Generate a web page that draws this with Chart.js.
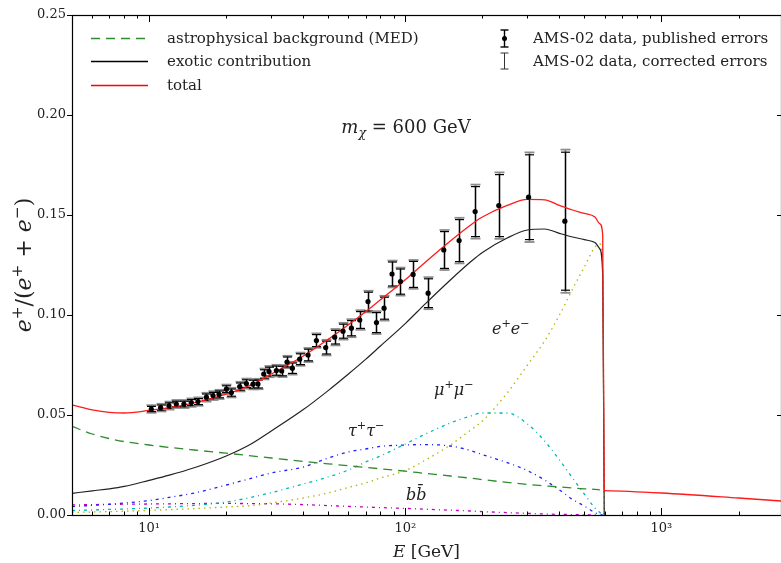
<!DOCTYPE html>
<html>
<head>
<meta charset="utf-8">
<script src="https://cdn.jsdelivr.net/npm/chart.js@4.4.1/dist/chart.umd.min.js"></script>
<style>
  html, body { margin: 0; padding: 0; background: #fff; }
  #wrap { width: 781px; height: 563px; }
</style>
</head>
<body>
<div id="wrap"><canvas id="chart" width="781" height="563"></canvas></div>
<script>
// =========================
// DATA
// =========================
// energy grid (GeV) for the model curves
const energy = [5, 6, 7, 8, 10, 12, 15, 20, 25, 30, 40, 50, 60, 70, 80, 100, 120, 150, 180, 200,
  250, 300, 350, 400, 450, 500, 550, 575, 590, 598, 601, 1000, 2000, 2930];

const background = [0.0443, 0.0405, 0.0382, 0.0367, 0.035, 0.0338, 0.0325, 0.0309, 0.0296, 0.0285,
  0.0268, 0.0256, 0.0246, 0.0238, 0.0231, 0.0219, 0.0208, 0.0195, 0.0184, 0.0177,
  0.0163, 0.0153, 0.0146, 0.014, 0.0135, 0.0131, 0.0128, 0.0126, null, null, null, null, null, null];

const exotic = [0.0108, 0.0121, 0.0131, 0.0143, 0.0173, 0.0199, 0.0236, 0.0295, 0.0355, 0.042,
  0.0527, 0.0622, 0.0705, 0.0778, 0.0845, 0.0957, 0.1057, 0.1175, 0.1266, 0.1313,
  0.1385, 0.1425, 0.143, 0.1408, 0.139, 0.1377, 0.1362, 0.133, 0.12, 0, null, null, null, null];

const total = [0.0551, 0.0526, 0.0513, 0.051, 0.0523, 0.0537, 0.0561, 0.0604, 0.0651, 0.0705,
  0.0795, 0.0878, 0.0951, 0.1016, 0.1076, 0.1176, 0.1265, 0.137, 0.145, 0.149,
  0.1548, 0.1578, 0.1576, 0.1548, 0.1525, 0.1508, 0.149, 0.1456, 0.14, 0.0125, 0.0122, 0.011, 0.0085, 0.007];

const chanEE = [0.0013, 0.0015, 0.0017, 0.0019, 0.0023, 0.0027, 0.0032, 0.004, 0.0047, 0.006,
  0.0085, 0.011, 0.0138, 0.016, 0.0185, 0.0222, 0.0275, 0.035, 0.0425, 0.047,
  0.061, 0.075, 0.087, 0.1, 0.113, 0.124, 0.134, 0.1355, 0.12, 0, null, null, null, null];

const chanMuMu = [0.0022, 0.0025, 0.0028, 0.003, 0.0035, 0.004, 0.0048, 0.0065, 0.0088, 0.0112,
  0.0155, 0.019, 0.0225, 0.0265, 0.0295, 0.0355, 0.0405, 0.046, 0.0495, 0.051,
  0.051, 0.0455, 0.037, 0.0275, 0.0185, 0.0105, 0.0035, 0.0012, 0, null, null, null, null, null];

const chanTauTau = [0.0042, 0.0048, 0.0054, 0.006, 0.0072, 0.0088, 0.011, 0.015, 0.0183, 0.021,
  0.024, 0.0285, 0.0315, 0.033, 0.0343, 0.035, 0.0352, 0.0345, 0.0322, 0.0302,
  0.0262, 0.0222, 0.0175, 0.0125, 0.0078, 0.0045, 0.0012, 0.0003, 0, null, null, null, null, null];

const chanBB = [0.005, 0.0052, 0.0053, 0.0054, 0.0055, 0.0056, 0.0057, 0.0058, 0.0057, 0.0056,
  0.0052, 0.0047, 0.0043, 0.004, 0.0037, 0.0033, 0.0029, 0.0024, 0.002, 0.0017,
  0.0012, 0.0008, 0.0005, 0.0003, 0.0002, 0.0001, 0.00003, 0, null, null, null, null, null, null];

// AMS-02 positron fraction
const amsEnergy = [10.2, 11.09, 11.95, 12.77, 13.67, 14.61, 15.51, 16.73, 17.76, 18.74,
  20.03, 20.95, 22.57, 23.97, 25.44, 26.61, 28.02, 29.38, 31.4, 32.93,
  34.54, 36.26, 38.72, 41.73, 44.99, 48.92, 53.04, 57.15, 61.63, 66.42,
  71.54, 77.2, 82.65, 88.8, 95.79, 107.3, 122.8, 141.4, 162.3, 187.4,
  231.8, 302.9, 419.8];
const amsFraction = [0.053, 0.0537, 0.0547, 0.0555, 0.0555, 0.0562, 0.0567, 0.0589, 0.0597, 0.0603,
  0.0629, 0.0612, 0.0642, 0.0657, 0.0654, 0.0655, 0.0705, 0.0717, 0.0722, 0.072,
  0.0765, 0.0734, 0.0779, 0.08, 0.0872, 0.0837, 0.0889, 0.0919, 0.0934, 0.0975,
  0.1067, 0.0962, 0.1034, 0.1205, 0.1167, 0.1203, 0.1109, 0.1325, 0.1372, 0.1517,
  0.1547, 0.1589, 0.1469];
const amsErrPublished = [0.0013, 0.0013, 0.0014, 0.0014, 0.0014, 0.0015, 0.0015, 0.0016, 0.0016, 0.0017,
  0.0017, 0.0018, 0.0018, 0.0019, 0.002, 0.002, 0.0021, 0.0022, 0.0023, 0.0024,
  0.0025, 0.0026, 0.0027, 0.0029, 0.003, 0.0032, 0.0034, 0.0035, 0.0038, 0.0042,
  0.0047, 0.005, 0.0055, 0.006, 0.0063, 0.0065, 0.0072, 0.0092, 0.0105, 0.0125,
  0.0155, 0.0212, 0.0345];
const amsErrCorrected = [0.0019, 0.0019, 0.002, 0.002, 0.002, 0.0021, 0.0021, 0.0022, 0.0022, 0.0023,
  0.0023, 0.0024, 0.0024, 0.0025, 0.0026, 0.0026, 0.0027, 0.0028, 0.0029, 0.003,
  0.0031, 0.0032, 0.0033, 0.0035, 0.0036, 0.0039, 0.0041, 0.0042, 0.0045, 0.0049,
  0.0054, 0.0057, 0.0062, 0.0067, 0.007, 0.0072, 0.008, 0.01, 0.0114, 0.0135,
  0.0166, 0.0224, 0.0358];

// axis ticks
const xTickValues = [5, 6, 7, 8, 9, 10, 20, 30, 40, 50, 60, 70, 80, 90,
  100, 200, 300, 400, 500, 600, 700, 800, 900, 1000, 2000];
const xMajorTicks = [10, 100, 1000];
const xTickLabels = ["10¹", "10²", "10³"];

const SERIF = '"DejaVu Serif", "Liberation Serif", serif';
const TEXT = "#222";

// =========================
// HELPERS
// =========================
function fontFor(p, size) {
  const s = p.sup || p.sub ? size * 0.7 : size;
  return (p.it ? "italic " : "") + s + "px " + SERIF;
}

function drawRich(ctx, parts, x, y, size, align) {
  let w = 0;
  parts.forEach((p) => {
    ctx.font = fontFor(p, size);
    w += ctx.measureText(p.t).width;
  });
  let cx = align === "center" ? x - w / 2 : x;
  ctx.textAlign = "left";
  ctx.textBaseline = "alphabetic";
  parts.forEach((p) => {
    ctx.font = fontFor(p, size);
    const dy = p.sup ? -size * 0.42 : p.sub ? size * 0.22 : 0;
    ctx.fillText(p.t, cx, y + dy);
    cx += ctx.measureText(p.t).width;
  });
}

function seg(ctx, x1, y1, x2, y2) {
  ctx.beginPath();
  ctx.moveTo(x1, y1);
  ctx.lineTo(x2, y2);
  ctx.stroke();
}

function bar(ctx, px, top, bot, half) {
  seg(ctx, px, top, px, bot);
  seg(ctx, px - half, top, px + half, top);
  seg(ctx, px - half, bot, px + half, bot);
}

function curve(values) {
  return energy.map((e, i) => ({ x: e, y: values[i] }));
}

// =========================
// PLUGINS
// =========================
const errorBars = {
  id: "errorBars",
  beforeDatasetsDraw(chart) {
    const { ctx, scales: { x, y } } = chart;
    ctx.save();
    amsEnergy.forEach((e, i) => {
      const px = Math.round(x.getPixelForValue(e)) + 0.5;
      const v = amsFraction[i];
      ctx.strokeStyle = "#8c8c8c";
      ctx.lineWidth = 1.8;
      bar(ctx, px, y.getPixelForValue(v + amsErrCorrected[i]), y.getPixelForValue(v - amsErrCorrected[i]), 5);
      ctx.strokeStyle = "#000";
      ctx.lineWidth = 1.2;
      bar(ctx, px, y.getPixelForValue(v + amsErrPublished[i]), y.getPixelForValue(v - amsErrPublished[i]), 4.5);
    });
    ctx.restore();
  },
};

const frame = {
  id: "frame",
  afterDraw(chart) {
    const { ctx, chartArea: a, scales: { x, y } } = chart;
    ctx.save();
    ctx.strokeStyle = "#000";
    ctx.lineWidth = 1.2;
    ctx.strokeRect(a.left + 0.5, a.top + 0.5, a.right - a.left, a.bottom - a.top);

    ctx.lineWidth = 1;
    xTickValues.forEach((v) => {
      const px = Math.round(x.getPixelForValue(v)) + 0.5;
      const len = xMajorTicks.includes(v) ? 7 : 3.5;
      seg(ctx, px, a.bottom, px, a.bottom - len);
      seg(ctx, px, a.top, px, a.top + len);
    });
    y.ticks.forEach((t) => {
      const py = Math.round(y.getPixelForValue(t.value)) + 0.5;
      seg(ctx, a.left - 5, py, a.left, py);
      seg(ctx, a.right - 4, py, a.right, py);
    });

    // axis titles
    ctx.fillStyle = TEXT;
    drawRich(ctx, [{ t: "E", it: true }, { t: " [GeV]" }], (a.left + a.right) / 2, 557, 17, "center");
    ctx.save();
    ctx.translate(31, (a.top + a.bottom) / 2);
    ctx.rotate(-Math.PI / 2);
    drawRich(ctx, [
      { t: "e", it: true }, { t: "+", sup: true }, { t: "/(" },
      { t: "e", it: true }, { t: "+", sup: true }, { t: " + " },
      { t: "e", it: true }, { t: "−", sup: true }, { t: ")" },
    ], 0, 0, 22, "center");
    ctx.restore();

    // annotations
    drawRich(ctx, [{ t: "m", it: true }, { t: "χ", it: true, sub: true }, { t: " = 600 GeV" }], 406, 133, 18, "center");
    drawRich(ctx, [{ t: "e", it: true }, { t: "+", sup: true }, { t: "e", it: true }, { t: "−", sup: true }], 492, 334, 16, "left");
    drawRich(ctx, [{ t: "μ", it: true }, { t: "+", sup: true }, { t: "μ", it: true }, { t: "−", sup: true }], 434, 395, 16, "left");
    drawRich(ctx, [{ t: "τ", it: true }, { t: "+", sup: true }, { t: "τ", it: true }, { t: "−", sup: true }], 348, 436, 16, "left");
    drawRich(ctx, [{ t: "b", it: true }, { t: "b\u0304", it: true }], 406, 500, 16, "left");

    // legend, left column
    const legendLeft = [
      { label: "astrophysical background (MED)", color: "rgb(46,139,46)", dash: [9, 6], y: 38 },
      { label: "exotic contribution", color: "rgb(0,0,0)", dash: [], y: 61 },
      { label: "total", color: "rgb(255,0,0)", dash: [], y: 85 },
    ];
    legendLeft.forEach((it) => {
      ctx.save();
      ctx.strokeStyle = it.color;
      ctx.lineWidth = 1.3;
      ctx.setLineDash(it.dash);
      seg(ctx, 91, it.y + 0.5, 148, it.y + 0.5);
      ctx.restore();
      ctx.fillStyle = TEXT;
      ctx.font = "15px " + SERIF;
      ctx.textAlign = "left";
      ctx.textBaseline = "middle";
      ctx.fillText(it.label, 167, it.y + 1);
    });

    // legend, right column
    ctx.strokeStyle = "#000";
    ctx.lineWidth = 1.4;
    bar(ctx, 504.5, 30, 47, 4);
    ctx.fillStyle = "#000";
    ctx.beginPath();
    ctx.arc(504.5, 38.5, 2.5, 0, Math.PI * 2);
    ctx.fill();
    ctx.strokeStyle = "#333";
    ctx.lineWidth = 1;
    bar(ctx, 504.5, 53, 69, 4);
    ctx.fillStyle = TEXT;
    ctx.font = "15px " + SERIF;
    ctx.textAlign = "left";
    ctx.textBaseline = "middle";
    ctx.fillText("AMS-02 data, published errors", 533, 39);
    ctx.fillText("AMS-02 data, corrected errors", 533, 62);
    ctx.restore();
  },
};

// =========================
// CHART
// =========================
const lineStyle = (color, width, dash) => ({
  type: "line",
  borderColor: color,
  borderWidth: width,
  borderDash: dash,
  pointRadius: 0,
  cubicInterpolationMode: "monotone",
  spanGaps: false,
  fill: false,
});

new Chart(document.getElementById("chart"), {
  data: {
    datasets: [
      {
        type: "scatter",
        label: "AMS-02",
        data: amsEnergy.map((e, i) => ({ x: e, y: amsFraction[i] })),
        pointRadius: 2.6,
        pointBackgroundColor: "#000",
        pointBorderWidth: 0,
      },
      { label: "total", data: curve(total), ...lineStyle("#ff1a1a", 1.3, []) },
      { label: "exotic contribution", data: curve(exotic), ...lineStyle("#222", 1.2, []) },
      { label: "background", data: curve(background), ...lineStyle("#2e8b2e", 1.3, [9, 6]) },
      { label: "e+e-", data: curve(chanEE), ...lineStyle("#b5b500", 1.3, [1.5, 4]) },
      { label: "mu+mu-", data: curve(chanMuMu), ...lineStyle("#00b5b5", 1.3, [3, 4, 1, 4]) },
      { label: "tau+tau-", data: curve(chanTauTau), ...lineStyle("#2020ff", 1.3, [3, 4, 1, 4]) },
      { label: "bb", data: curve(chanBB), ...lineStyle("#c000c0", 1.3, [3, 4, 1, 4]) },
    ],
  },
  options: {
    responsive: false,
    animation: false,
    devicePixelRatio: 1,
    layout: { autoPadding: false, padding: { top: 15, right: 0, bottom: 0, left: 0 } },
    plugins: { legend: { display: false }, tooltip: { enabled: false } },
    scales: {
      x: {
        type: "logarithmic",
        min: 5,
        max: 2930,
        grid: { display: false, drawTicks: false },
        border: { display: false },
        afterBuildTicks: (s) => {
          s.ticks = xTickValues.map((v) => ({ value: v }));
        },
        afterFit: (s) => {
          s.height = 48;
          s.paddingRight = 0;
          s.paddingLeft = 0;
        },
        ticks: {
          autoSkip: false,
          maxRotation: 0,
          padding: 6,
          color: TEXT,
          font: { family: SERIF, size: 13 },
          callback: (v) => {
            const k = xMajorTicks.indexOf(v);
            return k >= 0 ? xTickLabels[k] : "";
          },
        },
      },
      y: {
        type: "linear",
        min: 0,
        max: 0.25,
        grid: { display: false, drawTicks: false },
        border: { display: false },
        afterFit: (s) => {
          s.width = 72;
        },
        ticks: {
          stepSize: 0.05,
          padding: 6,
          color: TEXT,
          font: { family: SERIF, size: 13 },
          callback: (v) => v.toFixed(2),
        },
      },
    },
  },
  plugins: [errorBars, frame],
});
</script>
</body>
</html>
